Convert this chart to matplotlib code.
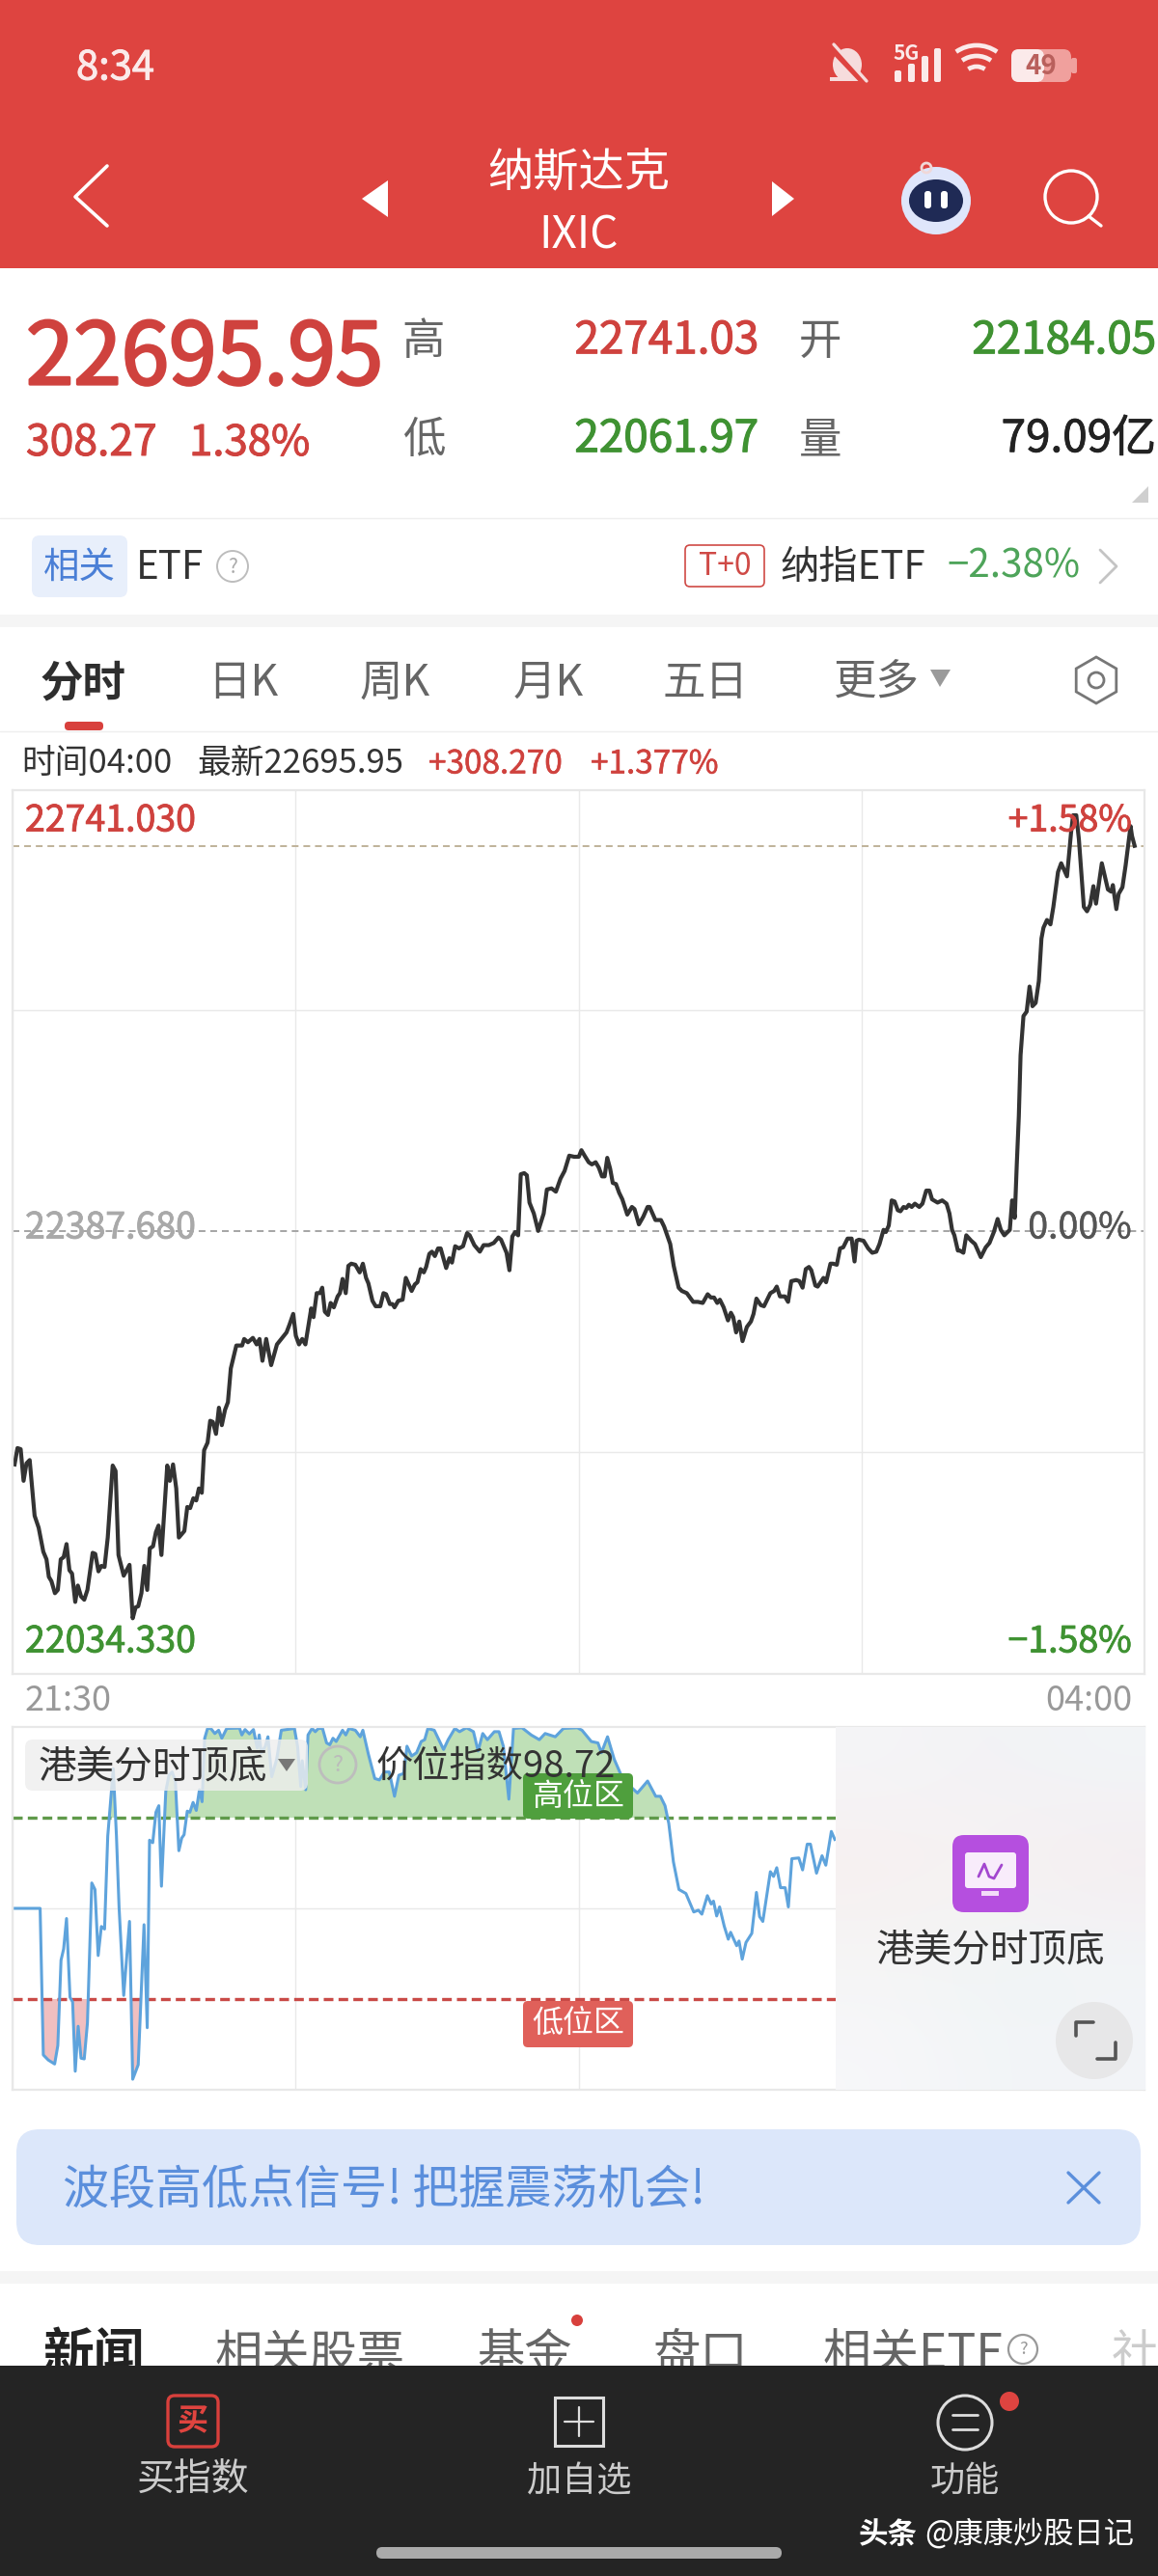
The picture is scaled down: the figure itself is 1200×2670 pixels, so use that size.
import numpy as np
import matplotlib
matplotlib.use("Agg")
import matplotlib.pyplot as plt
import matplotlib.patheffects as pe
from matplotlib.patches import Rectangle, FancyBboxPatch, Circle, Ellipse, Polygon, Arc
plt.rcParams['font.family'] = ['Noto Sans CJK SC', 'DejaVu Sans']
plt.rcParams['axes.unicode_minus'] = False

# ---------- data ----------
prev_close = 22387.68
high_price = 22741.03
price_minutes = [0.7,1.7,2.8,3.8,4.8,5.9,7.6,9.0,10.6,11.7,12.5,13.4,14.6,15.6,16.6,17.6,18.6,19.6,20.5,21.6,22.5,23.6,24.7,25.8,27.6,28.5,29.6,30.6,31.7,32.8,34.5,35.5,36.5,38.3,40.3,41.4,42.4,43.3,44.4,45.4,46.4,47.3,48.4,49.4,50.3,51.3,53.3,54.2,55.3,56.4,57.3,59.2,60.2,61.2,62.3,63.3,64.2,65.2,66.0,67.2,68.1,69.0,70.1,71.1,72.1,73.2,74.2,75.2,
 77.1,79.1,79.8,81.1,82.8,84.1,85.1,86.1,87.4,89.1,91.1,94.4,
 95.4,96.7,97.6,98.7,99.8,100.9,102.9,103.7,104.8,105.9,106.7,107.6,108.7,109.6,110.7,112.0,112.8,113.7,114.8,115.7,116.7,118.1,119.6,120.7,121.8,122.6,124.0,125.1,126.7,127.8,128.7,130.0,130.9,131.6,132.9,134.4,135.5,137.5,138.6,139.5,140.6,141.7,142.5,143.6,144.5,145.5,146.6,147.5,149.4,150.5,151.4,152.5,153.8,155.2,156.6,157.5,159.1,161.0,162.3,164.1,165.8,167.4,168.3,170.2,171.2,172.2,173.2,174.2,175.1,176.3,177.2,178.1,179.6,181.1,183.0,184.1,185.7,187.2,188.8,190.2,191.8,193.5,195.1,
 196.0,197.1,198.5,199.6,200.9,202.0,203.1,204.0,204.9,205.9,206.8,207.9,209.0,210.1,211.8,213.4,214.3,215.8,217.3,218.8,219.5,221.5,223.4,224.5,226.6,227.8,229.5,230.6,232.3,234.5,236.1,237.8,239.5,240.6,241.7,242.8,243.7,245.0,246.5,247.5,248.3,249.3,250.4,251.5,253.0,254.4,255.3,256.3,257.8,258.9,261.1,262.4,263.3,264.4,266.1,267.2,268.3,270.0,271.1,272.2,273.3,274.4,275.2,276.6,277.4,279.4,280.3,281.8,282.7,284.0,285.1,286.2,287.7,289.1,290.1,290.8,291.6,
 293.2,294.8,296.2,297.6,298.7,300.1,300.9,301.9,302.9,303.9,305.0,305.9,307.0,307.9,308.8,309.8,310.9,312.4,313.5,314.8,315.9,316.8,318.7,320.3,321.8,322.8,323.7,324.5,325.7,326.4,327.6,328.6,330.3,331.6,333.6,335.3,336.6,338.1,339.4,340.5,341.7,343.6,344.4,345.3,346.0,346.7,347.3,348.3,349.4,350.4,351.4,352.5,353.6,354.5,355.2,356.4,357.6,358.6,360.2,361.3,363.3,364.7,365.4,366.5,367.4,369.1,370.2,371.3,372.4,373.3,375.3,377.4,378.5,379.1,380.3,381.1,382.4,383.5,385.2,385.7,386.6]
price_values = [22174,22189,22188,22159,22175,22178,22127,22116,22094,22087,22071,22067,22056,22059,22087,22089,22101,22077,22074,22048,22063,22053,22050,22059,22093,22092,22076,22081,22080,22107,22173,22168,22091,22072,22082,22033,22043,22044,22056,22081,22059,22097,22099,22112,22118,22091,22173,22159,22174,22152,22107,22113,22135,22134,22143,22141,22152,22148,22187,22194,22214,22213,22202,22226,22210,22224,22231,22262,
 22283,22283,22289,22286,22290,22284,22289,22269,22289,22265,22284,22295,
 22302,22312,22292,22284,22289,22284,22317,22309,22331,22331,22336,22314,22311,22322,22318,22328,22331,22344,22331,22356,22358,22357,22350,22358,22345,22340,22324,22319,22319,22331,22330,22321,22321,22318,22324,22325,22345,22333,22339,22341,22353,22350,22355,22367,22369,22365,22372,22372,22354,22363,22359,22374,22372,22374,22386,22384,22375,22369,22375,22375,22377,22382,22380,22368,22352,22383,22387,22384,22440,22441,22439,22414,22404,22388,22404,22426,22427,22424,22436,22443,22457,22456,22456,
 22462,22457,22451,22449,22451,22446,22438,22438,22455,22445,22432,22431,22423,22417,22403,22410,22408,22394,22401,22410,22410,22398,22398,22392,22376,22356,22336,22333,22331,22323,22323,22322,22330,22327,22327,22322,22325,22318,22306,22313,22309,22295,22305,22287,22300,22305,22312,22326,22320,22319,22331,22333,22337,22328,22328,22323,22342,22343,22342,22336,22353,22355,22352,22338,22337,22345,22341,22358,22358,22357,22372,22373,22381,22381,22360,22379,22380,
 22379,22372,22368,22369,22376,22389,22387,22393,22416,22415,22407,22406,22410,22409,22412,22410,22413,22410,22413,22425,22425,22417,22414,22416,22413,22404,22389,22384,22370,22370,22368,22384,22379,22376,22364,22373,22377,22387,22399,22389,22384,22389,22416,22400,22449,22493,22549,22585,22589,22612,22594,22597,22617,22656,22666,22673,22669,22685,22717,22725,22713,22753,22769,22769,22747,22685,22681,22687,22704,22688,22725,22701,22699,22705,22683,22697,22703,22723,22759,22750,22741]

index_minutes = [0.9,9.5,10.6,12.3,14.5,15.6,16.7,17.6,18.6,19.8,20.7,21.6,22.6,23.6,24.7,25.8,27.3,28.4,29.5,30.6,31.7,32.8,34.7,35.8,36.7,38.3,40.3,41.4,43.3,45.3,46.4,47.2,48.3,49.4,50.4,51.3,52.8,53.9,55,56.1,57.3,58.3,59.1,60.2,61.1,62.2,63.3,64.4,65.3,66.2,67.2,68.3,69.7,71.0,72.1,73.8,78.2,79,80.1,81.6,83,84.3,85,85.7,87.1,88,89.3,91,92.6,97.1,98.2,99.3,99.8,101,101.8,103.2,104.3,105.4,106.8,108.2,109.3,110.4,111.5,113.7,114.8,115.9,118.1,119.8,120.7,122.6,124.8,126.4,128.1,129.8,131.6,133.1,134.8,135.9,137.5,139.2,140.8,142,143.1,145.3,
 148.5,150.1,152.4,154,156.4,158.8,160.4,162,163.6,166,167.6,169.1,171,172.6,175.5,178.7,181.5,183.5,187,189.8,194.6,196.2,199.4,201.7,202.9,205,207.3,209.7,212.9,215.3,218.8,221.6,223.2,224.8,226.1,227.7,229.6,232,234.7,236.3,237.5,239.4,240.7,241.5,242.6,243.6,245.2,246.6,247.4,249.5,250.3,251.4,252.7,254.7,256.3,257.4,258.5,261.1,262.2,263.3,264.6,266.2,267.3,268.5,270.9,272.2,273.8,274.9,277,278.9,280.2,282.1,283.3]
index_values = [50,50,9.6,8.2,7.1,12.2,35.7,38.8,47.2,25.5,24.2,5.1,17.5,8.7,8.5,18.4,57,55.2,37,45,44.3,69.9,88.5,69.9,50.3,26,46.4,2.9,6.9,45.5,17.1,68.8,68.1,76.5,78.3,56.1,82.3,86.7,87.6,85,65.9,69.4,70.3,76.8,76.5,79.2,77,82.7,79.4,96.9,99.6,99.6,98.2,99.1,96.9,99.6,99.7,97.8,99.3,98.1,99.3,94.2,97.8,92.9,94.7,97.3,86.3,91.1,99.1,99.6,94.7,83.6,90.7,82.7,97.8,99.6,98.7,99.6,99.6,95.6,95.1,96.9,96,99.1,97.8,99.6,99.1,97.3,99.1,92.5,85.8,85.4,87.6,87.6,80.9,86.7,87.2,94.7,92,92.9,96,96.5,99.6,99.1,
 93.8,96.5,99.6,98.7,99.8,98.7,93.4,98.2,96.5,98.7,98.7,94.7,80.1,99.6,99.8,97.8,96.5,98.2,97.3,99.6,99.8,99.1,96,95.6,92.9,97.3,91.1,86.7,83.6,81.8,85.1,80.9,80.9,78.3,73.4,62.8,55.2,54.1,49,49.5,48.4,53.5,51.2,52,47.9,50.4,45.1,41.5,43.4,39.7,41,36,40.6,43.1,54.4,47.7,46.4,60.1,58.8,61.2,55.7,55.7,50.4,63.7,63.9,60.6,67.7,67.7,59.7,64.5,61.9,71.2,69]
high_zone = 75
low_zone = 25
time_ticks = [0, 97.5, 195, 292.5, 390]
price_grid = [22185.2, 22590.2]
price_ylim = (21982, 22792)

# ---------- palette ----------
RED, GREEN = '#cf423e', '#3f9232'
fig = plt.figure(figsize=(12, 26.7), dpi=100, facecolor='white')

def panel(x0, y0, x1, y1, z=1):
    return fig.add_axes([x0/1200, 1-y1/2670, (x1-x0)/1200, (y1-y0)/2670], zorder=z)

def style(ax):
    ax.set_xlim(0, 390)
    ax.set_xticks(time_ticks)
    ax.tick_params(length=0, labelbottom=False, labelleft=False)
    ax.grid(True, color='#e9e9e9', lw=1.0)
    ax.set_axisbelow(True)
    for s in ax.spines.values():
        s.set_color('#e8e8e8'); s.set_linewidth(1.6)

# ---------- price chart ----------
ax1 = panel(13, 819, 1186, 1735)
style(ax1)
ax1.set_ylim(*price_ylim)
ax1.set_yticks(price_grid)
ax1.axhline(high_price, color='#bfb299', lw=1.4, ls=(0, (3.6, 2.6)))
ax1.axhline(prev_close, color='#a5a5a5', lw=1.4, ls=(0, (3.6, 2.6)))
ax1.plot(price_minutes, price_values, color='#333333', lw=3.0, solid_joinstyle='round', clip_on=False)

# ---------- oscillator ----------
ax2 = panel(13, 1790, 1186, 2166)
style(ax2)
ax2.set_ylim(0, 100)
ax2.set_yticks([50])
iv = np.array(index_values, float); im = np.array(index_minutes, float)
ax2.fill_between(im, iv, high_zone, where=iv >= high_zone, interpolate=True, color='#bfe0b7', lw=0)
ax2.fill_between(im, iv, low_zone, where=iv <= low_zone, interpolate=True, color='#f0bfc0', lw=0)
ax2.axhline(high_zone, color='#5f9a4a', lw=2.4, ls=(0, (3.0, 1.6)))
ax2.axhline(low_zone, color='#c94a47', lw=2.4, ls=(0, (3.0, 1.6)))
ax2.plot(im, iv, color='#5ea3dc', lw=2.2)

# ---------- page chrome ----------
ui = fig.add_axes([0, 0, 1, 1], zorder=10)
ui.set_xlim(0, 1200); ui.set_ylim(2670, 0); ui.axis('off'); ui.patch.set_alpha(0)

def T(x, y, s, size, color='#333333', ha='left', weight='normal', z=5, heavy=0):
    t = ui.text(x, y+3, s, fontsize=size, color=color, ha=ha, va='center', weight=weight, zorder=z)
    if heavy:
        t.set_path_effects([pe.withStroke(linewidth=heavy, foreground=color)])
    return t
def R(x0, y0, x1, y1, color, z=2):
    ui.add_patch(Rectangle((x0, y0), x1-x0, y1-y0, fc=color, ec='none', zorder=z))
def RR(x0, y0, x1, y1, r, fc, ec='none', lw=0, z=2, alpha=None):
    ui.add_patch(FancyBboxPatch((x0, y0), x1-x0, y1-y0, boxstyle=f'round,pad=0,rounding_size={r}',
                                fc=fc, ec=ec, lw=lw, zorder=z, alpha=alpha))
def L(xs, ys, color, lw=2, z=4):
    ui.plot(xs, ys, color=color, lw=lw, zorder=z, solid_capstyle='round', solid_joinstyle='round')
def TRI(pts, color, z=4):
    ui.add_patch(Polygon(pts, closed=True, fc=color, ec='none', zorder=z))

# header
R(0, 0, 1200, 278, '#de4440')
T(79, 68, '8:34', 30, '#fbeaea', heavy=0.7)
# status icons
ui.add_patch(Ellipse((878, 67), 30, 34, fc='#f6dcdc', ec='none', zorder=3))
R(860, 80, 896, 84, '#f6dcdc', 3)
L([860, 898], [48, 88], '#de4440', 5)
L([864, 898], [46, 84], '#f6dcdc', 2.4)
T(925, 52, '5G', 15, '#fbeaea', weight='bold')
for bx, by in zip([927, 941, 955, 968], [73, 66, 58, 50]):
    RR(bx, by, bx+7, 85, 2, '#fbeaea', z=3)
for r_ in (30, 19, 8):
    ui.add_patch(Arc((1012, 84), 2*r_+14, 2*r_+14, theta1=235, theta2=305, color='#fbeaea', lw=3.4, zorder=3))
RR(1048, 51, 1110, 85, 8, '#f0a09d', z=3)
RR(1048, 51, 1082, 85, 8, '#fbeaea', z=3)
RR(1110, 60, 1116, 76, 2, '#f0a09d', z=3)
T(1079, 66, '49', 20, '#b9605c', ha='center', weight='bold')
# nav
L([111, 78, 111], [172, 204, 234], 'white', 2.6)
TRI([(402, 187), (375, 206), (402, 225)], 'white')
TRI([(800, 188), (823, 206), (800, 224)], 'white')
T(600, 177, '纳斯达克', 34, 'white', ha='center')
T(600, 241, 'IXIC', 33, 'white', ha='center')
ui.add_patch(Ellipse((970, 208), 72, 70, fc='#dfe6fb', ec='none', zorder=3))
ui.add_patch(Ellipse((970, 208), 56, 44, fc='#1f2a55', ec='none', zorder=4))
RR(958, 198, 965, 216, 3, 'white', z=5)
RR(975, 198, 982, 216, 3, 'white', z=5)
ui.add_patch(Circle((960, 174), 5, fc='none', ec='#f0d8d8', lw=2, zorder=4))
ui.add_patch(Circle((1110, 204), 27, fc='none', ec='white', lw=2.4, zorder=4))
L([1128, 1141], [224, 234], 'white', 2.4)

# quote block
T(27, 370, '22695.95', 64, RED, heavy=2.0)
T(27, 456, '308.27', 32, RED, heavy=0.7)
T(196, 456, '1.38%', 31.5, RED, heavy=0.7)
T(439, 351, '高', 32, '#666666', ha='center')
T(439, 453, '低', 32, '#666666', ha='center')
T(786, 350, '22741.03', 33, RED, ha='right', heavy=0.8)
T(786, 452, '22061.97', 33, GREEN, ha='right', heavy=0.8)
T(850, 351, '开', 32, '#666666', ha='center')
T(850, 453, '量', 32, '#666666', ha='center')
T(1198, 350, '22184.05', 33, GREEN, ha='right', heavy=0.8)
T(1198, 452, '79.09亿', 33, '#222222', ha='right', heavy=0.6)
TRI([(1190, 504), (1190, 521), (1173, 521)], '#cfcfcf')
L([0, 1200], [537, 537], '#eeeeee', 1)

# ETF row
RR(33, 555, 132, 619, 8, '#e8effb')
T(82, 585, '相关', 27, '#4a7fd6', ha='center')
T(141, 585, 'ETF', 29, '#333333')
ui.add_patch(Circle((241, 587), 16, fc='none', ec='#bdbdbd', lw=1.4, zorder=4))
T(241, 585, '?', 15, '#aaaaaa', ha='center')
RR(710, 565, 792, 608, 5, 'white', ec='#cf4a46', lw=1.2)
T(751, 584, 'T+0', 23, '#cf4a46', ha='center')
T(808, 585, '纳指ETF', 29, '#333333')
T(981, 584, '−2.38%', 29, '#4ea45a')
L([1140, 1157, 1140], [570, 587, 604], '#c4c4c4', 2)
R(0, 637, 1200, 650, '#f5f5f5')

# period tabs
T(86, 705, '分时', 32, '#2e2e2e', ha='center', weight='bold')
for tx, lab in zip([252, 409, 568, 731, 908], ['日K', '周K', '月K', '五日', '更多']):
    T(tx, 705, lab, 32, '#666666', ha='center')
TRI([(964, 694), (985, 694), (974, 712)], '#9a9a9a')
th = np.deg2rad(np.arange(30, 390, 60))
ui.add_patch(Polygon(np.c_[1136+24*np.cos(th), 705+24*np.sin(th)], closed=True, fc='none', ec='#777777', lw=2, zorder=4))
ui.add_patch(Circle((1136, 705), 8, fc='none', ec='#777777', lw=2, zorder=4))
RR(67, 748, 107, 757, 4, '#d8403c')
L([0, 1200], [758, 758], '#eeeeee', 1)

# readout line
T(22, 789, '时间04:00', 25, '#333333')
T(204, 789, '最新22695.95', 25, '#333333')
T(444, 789, '+308.270', 24, RED, heavy=0.4)
T(612, 789, '+1.377%', 24, RED, heavy=0.4)

# chart labels
T(26, 848, '22741.030', 27, RED, heavy=0.6)
T(26, 1270, '22387.680', 27, '#a9a9a9', heavy=0.6)
T(26, 1699, '22034.330', 27, GREEN, heavy=0.6)
T(1173, 848, '+1.58%', 27, RED, ha='right', heavy=0.6)
T(1173, 1270, '0.00%', 27, '#555555', ha='right', heavy=0.3)
T(1173, 1699, '−1.58%', 27, GREEN, ha='right', heavy=0.6)
T(26, 1760, '21:30', 26, '#999999')
T(1173, 1760, '04:00', 26, '#999999', ha='right')

# oscillator overlays
RR(26, 1803, 319, 1856, 8, '#eeeeee', alpha=0.82)
T(40, 1829, '港美分时顶底', 28.5, '#333333')
TRI([(288, 1823), (306, 1823), (297, 1836)], '#777777')
ui.add_patch(Circle((350, 1829), 19, fc='none', ec='#bdbdbd', lw=2, zorder=4))
T(350, 1826, '?', 17, '#bbbbbb', ha='center')
T(390, 1828, '价位指数98.72', 27.5, '#333333')
RR(542, 1838, 656, 1885, 5, '#4f9f3d', z=3)
T(599, 1859, '高位区', 23, 'white', ha='center')
RR(542, 2074, 656, 2122, 5, '#e0605a', z=3)
T(599, 2094, '低位区', 23, 'white', ha='center')

# promo panel
grad = np.array([[[.96,.96,.97],[.95,.95,.96],[.95,.96,.97]],
                 [[.97,.94,.94],[.97,.95,.95],[.96,.93,.94]],
                 [[.96,.96,.96],[.94,.96,.96],[.95,.96,.97]],
                 [[.97,.97,.98],[.95,.96,.97],[.95,.96,.97]]])
ui.imshow(grad, extent=(866, 1187, 2166, 1790), aspect='auto', interpolation='bicubic', zorder=3)
ui.set_xlim(0, 1200); ui.set_ylim(2670, 0)
RR(987, 1902, 1066, 1982, 12, '#b54fdf', z=4)
RR(1000, 1920, 1053, 1957, 3, '#f8ecfb', z=5)
R(1017, 1960, 1035, 1965, '#f3dcf8', 5)
L([1014, 1020, 1025, 1030, 1038], [1945, 1932, 1945, 1947, 1933], '#a347cf', 2, z=6)
T(1026, 2019, '港美分时顶底', 28.5, '#333333', ha='center')
ui.add_patch(Circle((1134, 2115), 40, fc='#e7e7e8', ec='none', zorder=4))
L([1115, 1115, 1133], [2110, 2096, 2096], '#555555', 2.6, z=5)
L([1156, 1156, 1137], [2117, 2134, 2134], '#555555', 2.6, z=5)

# banner
RR(17, 2207, 1182, 2327, 24, '#dce7fa')
T(65, 2266, '波段高低点信号! 把握震荡机会!', 34.6, '#5b8fdc')
L([1107, 1139], [2252, 2283], '#5b8fdc', 2.4)
L([1139, 1107], [2252, 2283], '#5b8fdc', 2.4)
R(0, 2354, 1200, 2367, '#f5f5f5')

# lower tabs (cut by the dark bar)
T(97, 2438, '新闻', 38, '#222222', ha='center', weight='bold', z=3)
T(321, 2438, '相关股票', 35.5, '#666666', ha='center', z=3)
T(543, 2438, '基金', 35.5, '#666666', ha='center', z=3)
T(726, 2438, '盘口', 35.5, '#666666', ha='center', z=3)
T(853, 2438, '相关ETF', 36, '#666666', z=3)
ui.add_patch(Circle((1060, 2435), 15, fc='none', ec='#999999', lw=1.6, zorder=3))
T(1060, 2432, '?', 13, '#999999', ha='center', z=3)
T(1152, 2438, '社', 35, '#cccccc', z=3)
ui.add_patch(Circle((598, 2405), 6, fc='#d8403c', ec='none', zorder=3))

# bottom bar
R(0, 2452, 1200, 2670, '#242424', 4)
RR(174, 2483, 226, 2536, 7, 'none', ec='#d8403c', lw=2.4, z=5)
T(200, 2507, '买', 23, '#e0443f', ha='center', weight='bold', z=6)
T(200, 2568, '买指数', 28, '#cccccc', ha='center', z=6)
ui.add_patch(Rectangle((575, 2485), 50, 50, fc='none', ec='#dddddd', lw=2.2, zorder=5))
L([585, 615], [2510, 2510], '#dddddd', 1.6, z=6)
L([600, 600], [2495, 2525], '#dddddd', 1.6, z=6)
T(600, 2569, '加自选', 26, '#cccccc', ha='center', z=6)
ui.add_patch(Circle((1000, 2511), 28, fc='none', ec='#dddddd', lw=2.2, zorder=5))
L([987, 1013], [2503, 2503], '#dddddd', 2, z=6)
L([987, 1013], [2518, 2518], '#dddddd', 2, z=6)
ui.add_patch(Circle((1046, 2489), 10, fc='#de4440', ec='none', zorder=5))
T(1000, 2569, '功能', 26, '#cccccc', ha='center', z=6)
T(890, 2624, '头条', 22, 'white', weight='bold', z=6)
T(958, 2624, '@康康炒股日记', 22.5, 'white', z=6)
RR(390, 2640, 810, 2652, 6, '#aaaaaa', z=5)

fig.savefig('out.png', dpi=100, facecolor='white')
